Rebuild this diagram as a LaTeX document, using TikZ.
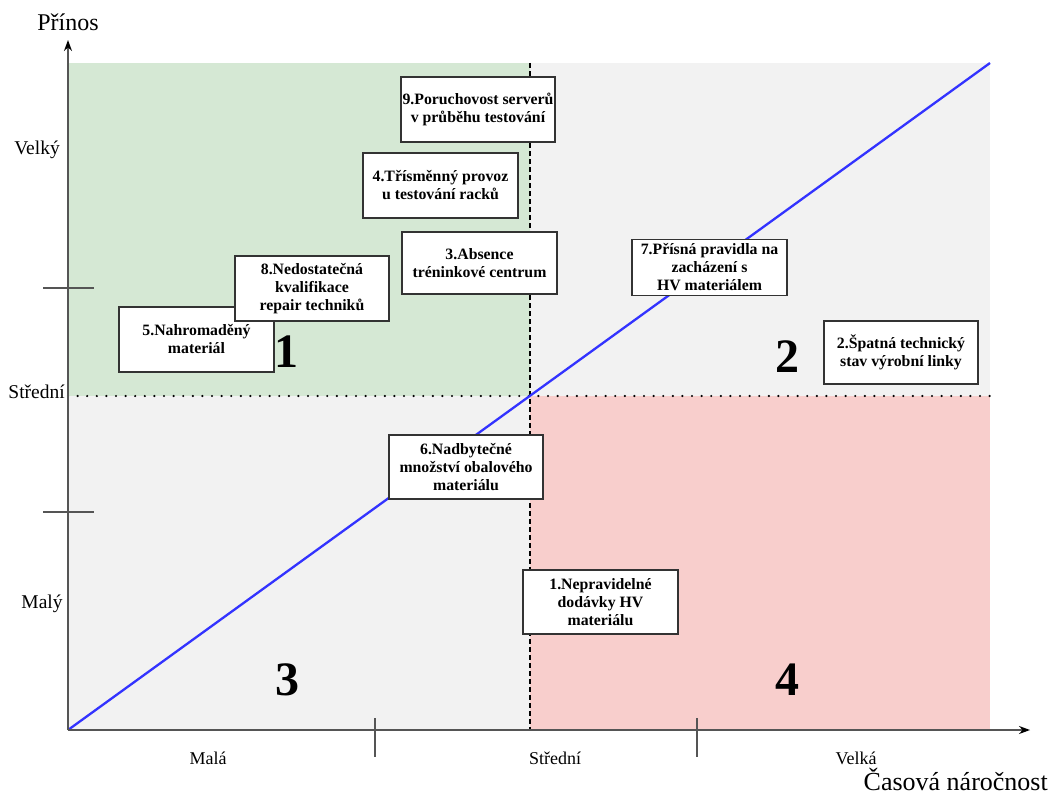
\documentclass[tikz,border=0pt]{standalone}
\usepackage{fontspec}
\setmainfont{Liberation Serif}
\usetikzlibrary{arrows.meta}
\definecolor{zoneGray}{HTML}{F2F2F2}
\definecolor{zoneGreen}{HTML}{D5E8D4}
\definecolor{zoneRed}{HTML}{F8CECC}
\definecolor{axisGray}{HTML}{555555}
\definecolor{diagBlue}{HTML}{3333FF}
\begin{document}
\begin{tikzpicture}[x=1pt,y=-1pt,
  item/.style={draw=black!80, line width=1.2pt, fill=white, align=center,
    font=\bfseries\fontsize{15.8}{18}\selectfont, inner sep=0pt},
  axisline/.style={draw=axisGray, line width=1.4pt},
  tickline/.style={draw=axisGray, line width=1.2pt},
  axlabel/.style={font=\fontsize{19.5}{21}\selectfont, inner sep=0pt},
  xlabel/.style={font=\fontsize{18}{20}\selectfont, inner sep=0pt},
  quadnum/.style={font=\bfseries\fontsize{48}{50}\selectfont, inner sep=0pt}]
\useasboundingbox (0,0) rectangle (1056,794);

% quadrant backgrounds
\fill[zoneGray] (68,63) rectangle (990,730);
\fill[zoneGreen] (68,63) rectangle (530,396);
\fill[zoneRed] (530,396) rectangle (990,730);

% dividing lines
\draw[black, line width=1.1pt, dash pattern=on 5pt off 3pt] (530,63) -- (530,730);
\draw[black, line width=2.4pt, line cap=round, dash pattern=on 0pt off 9.6pt] (68,396) -- (990,396);

% diagonal
\coordinate (o) at (68,730);
\coordinate (diagEnd) at (990,63);
\draw[diagBlue, line width=2.3pt] (o) -- (diagEnd);

% axes
\coordinate (yTip) at (68,40);
\coordinate (xTip) at (1030,730);
\draw[axisline, -{Stealth[length=11pt,width=8pt,black]}] (o) -- (yTip);
\draw[axisline, -{Stealth[length=11pt,width=8pt,black]}] (o) -- (xTip);

% ticks
\draw[tickline] (43,288) -- (94,288);
\draw[tickline] (43,512) -- (94,512);
\draw[tickline] (375,718) -- (375,757);
\draw[tickline] (697,718) -- (697,757);

% axis labels
\node[font=\fontsize{24}{26}\selectfont, inner sep=0pt] (yTitle) at (68,22) {Přínos};
\node[axlabel] (yHigh) at (37,150) {Velký};
\node[axlabel, anchor=base east] (yMid) at (65,398) {Střední};
\node[axlabel] (yLow) at (42,604) {Malý};
\node[xlabel] (xLow) at (208,758) {Malá};
\node[xlabel] (xMid) at (555,758) {Střední};
\node[xlabel] (xHigh) at (856,758) {Velká};
\node[font=\fontsize{26}{28}\selectfont, inner sep=0pt, anchor=base east] (xTitle) at (1048,790) {Časová náročnost};

% quadrant numbers
\node[quadnum] (q1) at (286,352) {1};
\node[quadnum] (q2) at (787,357) {2};
\node[quadnum] (q3) at (287,680) {3};
\node[quadnum] (q4) at (787,680) {4};

% items
\node[item, minimum width=154pt, minimum height=65pt] (b9) at (478,109.5) {9.Poruchovost serverů\\v průběhu testování};
\node[item, minimum width=155pt, minimum height=65pt] (b4) at (440.5,185.5) {4.Třísměnný provoz\\u testování racků};
\node[item, minimum width=155pt, minimum height=65pt] (b5) at (196.5,339.5) {5.Nahromaděný\\materiál};
\node[item, minimum width=154pt, minimum height=65pt] (b8) at (312,288.5) {8.Nedostatečná\\kvalifikace\\repair techniků};
\node[item, minimum width=155pt, minimum height=62pt] (b3) at (479.5,263) {3.Absence\\tréninkové centrum};
\node[item, minimum width=155pt, minimum height=56pt] (b7) at (709.5,267.5) {7.Přísná pravidla na\\zacházení s\\HV materiálem};
\node[item, minimum width=154pt, minimum height=63pt] (b2) at (901,352.5) {2.Špatná technický\\stav výrobní linky};
\node[item, minimum width=154pt, minimum height=64pt] (b6) at (466,467) {6.Nadbytečné\\množství obalového\\materiálu};
\node[item, minimum width=155pt, minimum height=64pt] (b1) at (600.5,602) {1.Nepravidelné\\dodávky HV\\materiálu};
\end{tikzpicture}
\end{document}
